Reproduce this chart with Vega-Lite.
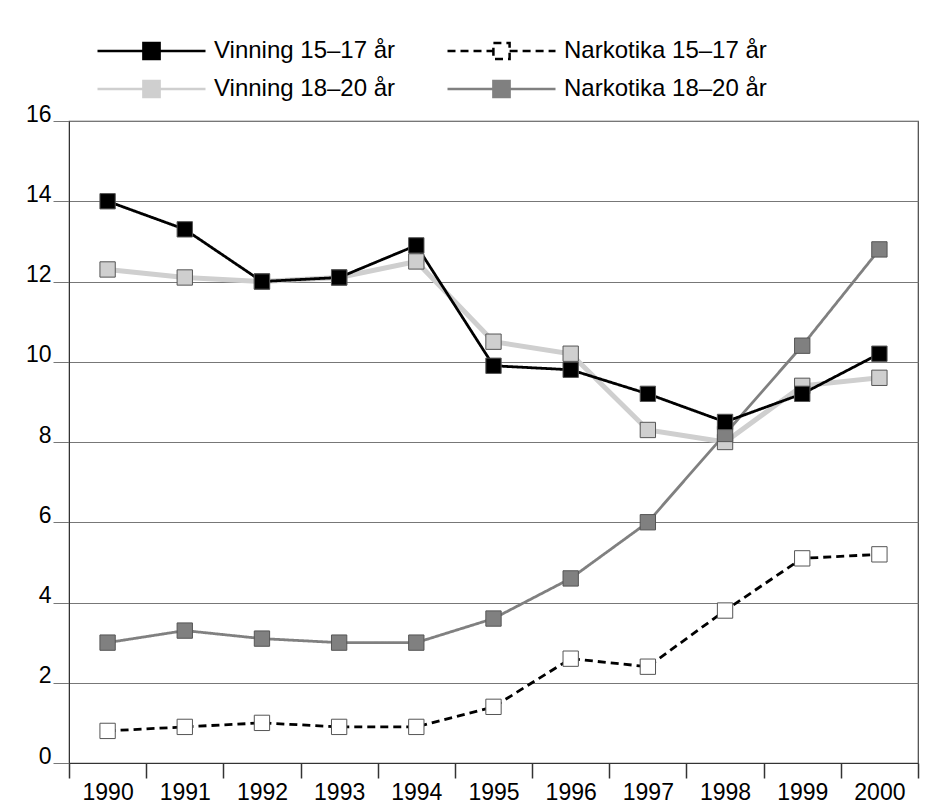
{
  "$schema": "https://vega.github.io/schema/vega-lite/v6.json",
  "width": 849,
  "height": 642,
  "autosize": "none",
  "padding": {"left": 69, "top": 121, "right": 11, "bottom": 44},
  "background": "white",
  "config": {
    "font": "Liberation Sans",
    "view": {"stroke": "#444", "strokeWidth": 1.2},
    "legend": {
      "symbolType": "M-1,0H-0.15M0.15,0H1M-0.15,-0.15H0.15V0.15H-0.15Z",
      "symbolSize": 11664,
      "symbolStrokeWidth": 2.5,
      "symbolOpacity": 1,
      "clipHeight": 30,
      "rowPadding": 8,
      "columnPadding": 50,
      "labelFontSize": 24,
      "labelLimit": 400,
      "labelColor": "black",
      "labelOffset": 7,
      "labelFont": "Liberation Sans"
    }
  },
  "data": {
    "values": [
      {"series": "Vinning 18–20 år", "year": "1990", "value": 12.3},
      {"series": "Vinning 18–20 år", "year": "1991", "value": 12.1},
      {"series": "Vinning 18–20 år", "year": "1992", "value": 12.0},
      {"series": "Vinning 18–20 år", "year": "1993", "value": 12.1},
      {"series": "Vinning 18–20 år", "year": "1994", "value": 12.5},
      {"series": "Vinning 18–20 år", "year": "1995", "value": 10.5},
      {"series": "Vinning 18–20 år", "year": "1996", "value": 10.2},
      {"series": "Vinning 18–20 år", "year": "1997", "value": 8.3},
      {"series": "Vinning 18–20 år", "year": "1998", "value": 8.0},
      {"series": "Vinning 18–20 år", "year": "1999", "value": 9.4},
      {"series": "Vinning 18–20 år", "year": "2000", "value": 9.6},
      {"series": "Narkotika 18–20 år", "year": "1990", "value": 3.0},
      {"series": "Narkotika 18–20 år", "year": "1991", "value": 3.3},
      {"series": "Narkotika 18–20 år", "year": "1992", "value": 3.1},
      {"series": "Narkotika 18–20 år", "year": "1993", "value": 3.0},
      {"series": "Narkotika 18–20 år", "year": "1994", "value": 3.0},
      {"series": "Narkotika 18–20 år", "year": "1995", "value": 3.6},
      {"series": "Narkotika 18–20 år", "year": "1996", "value": 4.6},
      {"series": "Narkotika 18–20 år", "year": "1997", "value": 6.0},
      {"series": "Narkotika 18–20 år", "year": "1998", "value": 8.2},
      {"series": "Narkotika 18–20 år", "year": "1999", "value": 10.4},
      {"series": "Narkotika 18–20 år", "year": "2000", "value": 12.8},
      {"series": "Narkotika 15–17 år", "year": "1990", "value": 0.8},
      {"series": "Narkotika 15–17 år", "year": "1991", "value": 0.9},
      {"series": "Narkotika 15–17 år", "year": "1992", "value": 1.0},
      {"series": "Narkotika 15–17 år", "year": "1993", "value": 0.9},
      {"series": "Narkotika 15–17 år", "year": "1994", "value": 0.9},
      {"series": "Narkotika 15–17 år", "year": "1995", "value": 1.4},
      {"series": "Narkotika 15–17 år", "year": "1996", "value": 2.6},
      {"series": "Narkotika 15–17 år", "year": "1997", "value": 2.4},
      {"series": "Narkotika 15–17 år", "year": "1998", "value": 3.8},
      {"series": "Narkotika 15–17 år", "year": "1999", "value": 5.1},
      {"series": "Narkotika 15–17 år", "year": "2000", "value": 5.2},
      {"series": "Vinning 15–17 år", "year": "1990", "value": 14.0},
      {"series": "Vinning 15–17 år", "year": "1991", "value": 13.3},
      {"series": "Vinning 15–17 år", "year": "1992", "value": 12.0},
      {"series": "Vinning 15–17 år", "year": "1993", "value": 12.1},
      {"series": "Vinning 15–17 år", "year": "1994", "value": 12.9},
      {"series": "Vinning 15–17 år", "year": "1995", "value": 9.9},
      {"series": "Vinning 15–17 år", "year": "1996", "value": 9.8},
      {"series": "Vinning 15–17 år", "year": "1997", "value": 9.2},
      {"series": "Vinning 15–17 år", "year": "1998", "value": 8.5},
      {"series": "Vinning 15–17 år", "year": "1999", "value": 9.2},
      {"series": "Vinning 15–17 år", "year": "2000", "value": 10.2}
    ]
  },
  "encoding": {
    "x": {
      "field": "year",
      "type": "ordinal",
      "scale": {"type": "band", "paddingInner": 0, "paddingOuter": 0},
      "axis": {
        "title": null,
        "labelAngle": 0,
        "tickBand": "extent",
        "tickSize": 15,
        "tickColor": "#333",
        "tickWidth": 1.5,
        "domainColor": "#333",
        "labelFontSize": 23,
        "labelColor": "black",
        "labelPadding": 3,
        "grid": false
      }
    },
    "y": {
      "field": "value",
      "type": "quantitative",
      "scale": {"domain": [0, 16], "nice": false},
      "axis": {
        "title": null,
        "values": [0, 2, 4, 6, 8, 10, 12, 14, 16],
        "grid": true,
        "gridColor": "#777",
        "gridWidth": 1,
        "tickSize": 16,
        "tickColor": "#777",
        "tickWidth": 1,
        "domainColor": "#333",
        "labelFontSize": 23,
        "labelColor": "black",
        "labelBaseline": "alphabetic",
        "labelPadding": 2
      }
    }
  },
  "layer": [
    {
      "transform": [{"filter": "datum.series == 'Vinning 18–20 år'"}],
      "mark": {"type": "line", "strokeWidth": 5},
      "encoding": {
        "stroke": {"field": "series", "type": "nominal",
          "scale": {"domain": ["Vinning 15–17 år", "Vinning 18–20 år", "Narkotika 15–17 år", "Narkotika 18–20 år"],
                    "range": ["#000000", "#cfcfcf", "#000000", "#808080"]}}
      }
    },
    {
      "transform": [{"filter": "datum.series != 'Vinning 18–20 år'"}],
      "mark": {"type": "line", "strokeWidth": 2.8},
      "encoding": {
        "stroke": {"field": "series", "type": "nominal",
          "scale": {"domain": ["Vinning 15–17 år", "Vinning 18–20 år", "Narkotika 15–17 år", "Narkotika 18–20 år"],
                    "range": ["#000000", "#cfcfcf", "#000000", "#808080"]},
          "legend": {
            "title": null,
            "orient": "none",
            "legendX": 27,
            "legendY": -85,
            "columns": 2
          }
        },
        "strokeDash": {"field": "series", "type": "nominal",
          "scale": {"domain": ["Vinning 15–17 år", "Vinning 18–20 år", "Narkotika 15–17 år", "Narkotika 18–20 år"],
                    "range": [[1, 0], [1, 0], [8, 5], [1, 0]]}}
      }
    },
    {
      "mark": {"type": "square", "size": 235, "opacity": 1, "filled": true, "stroke": "#555", "strokeWidth": 1},
      "encoding": {
        "fill": {"field": "series", "type": "nominal",
          "scale": {"domain": ["Vinning 15–17 år", "Vinning 18–20 år", "Narkotika 15–17 år", "Narkotika 18–20 år"],
                    "range": ["#000000", "#cfcfcf", "#ffffff", "#808080"]}}
      }
    }
  ]
}
